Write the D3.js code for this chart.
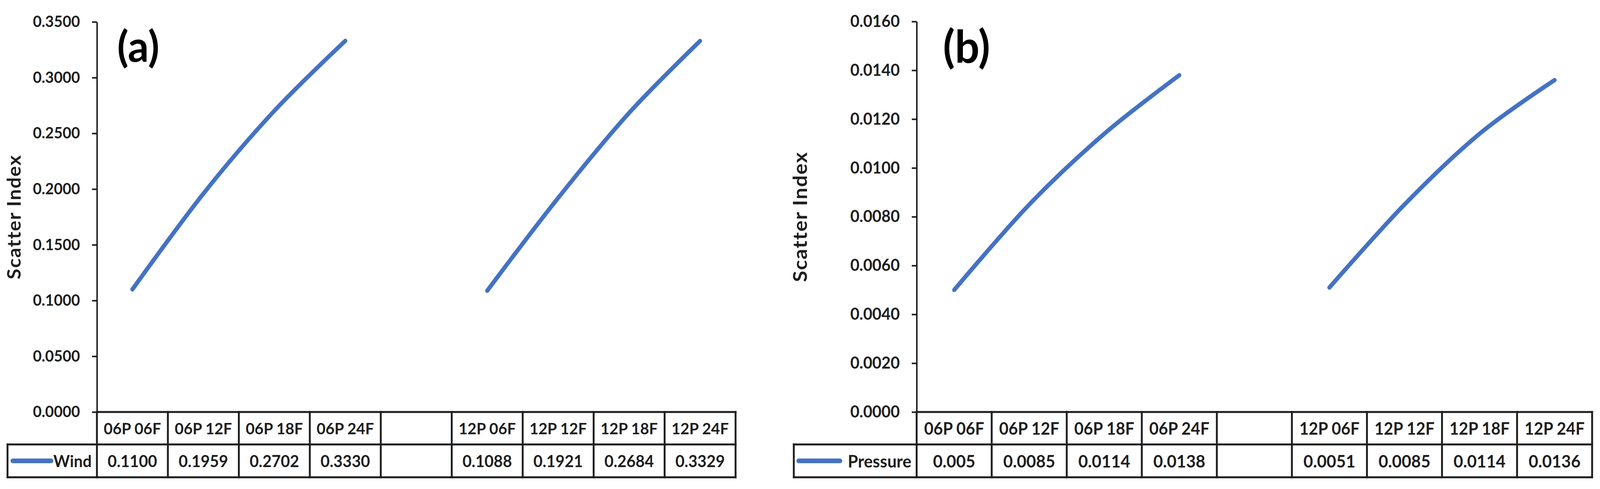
<!DOCTYPE html>
<html>
<head>
<meta charset="utf-8">
<script src="https://cdn.jsdelivr.net/npm/d3@7"></script>
<style>
  html, body { margin: 0; padding: 0; background: #ffffff; overflow: hidden; width: 100%; height: 100%; }
  svg { display: block; width: 100vw; height: 100vh; }
</style>
</head>
<body>
<svg id="chart" viewBox="0 0 4259 1251" preserveAspectRatio="none"></svg>
<script>
// ---------- DATA ----------
const categories = ["06P 06F", "06P 12F", "06P 18F", "06P 24F", "", "12P 06F", "12P 12F", "12P 18F", "12P 24F"];

const windValues = [0.1100, 0.1959, 0.2702, 0.3330, null, 0.1088, 0.1921, 0.2684, 0.3329];
const windLabels = ["0.1100", "0.1959", "0.2702", "0.3330", "", "0.1088", "0.1921", "0.2684", "0.3329"];
const windTicks = [0, 0.05, 0.10, 0.15, 0.20, 0.25, 0.30, 0.35];

const pressureValues = [0.005, 0.0085, 0.0114, 0.0138, null, 0.0051, 0.0085, 0.0114, 0.0136];
const pressureLabels = ["0.005", "0.0085", "0.0114", "0.0138", "", "0.0051", "0.0085", "0.0114", "0.0136"];
const pressureTicks = [0, 0.002, 0.004, 0.006, 0.008, 0.010, 0.012, 0.014, 0.016];

// ---------- STYLE / LAYOUT ----------
const FONT = "Lato, 'Open Sans', sans-serif";
const INK = "#1e1e1e";
const LINE_COLOR = "#4472C4";

const svg = d3.select("#chart");

function drawPanel(cfg) {
  const g = svg.append("g");
  const k = cfg.fontScale;

  const x = d3.scaleBand()
    .domain(d3.range(categories.length))
    .range([cfg.axisX, cfg.plotRight])
    .padding(0);

  const y = d3.scaleLinear()
    .domain([0, d3.max(cfg.ticks)])
    .range([cfg.plotBottom, cfg.plotTop]);

  // Y axis
  const yAxis = d3.axisLeft(y)
    .tickValues(cfg.ticks)
    .tickFormat(d3.format(".4f"))
    .tickSize(13)
    .tickSizeOuter(0)
    .tickPadding(32);

  const ax = g.append("g")
    .attr("transform", `translate(${cfg.axisX},0)`)
    .call(yAxis);
  ax.select(".domain").attr("stroke", INK).attr("stroke-width", 4);
  ax.selectAll(".tick line").attr("stroke", INK).attr("stroke-width", 4);
  ax.selectAll(".tick text")
    .attr("fill", INK)
    .style("font-family", FONT)
    .style("font-weight", "700")
    .style("font-size", (40 * k) + "px");

  // Y axis title
  g.append("text")
    .attr("transform", `translate(${cfg.titleX},${(cfg.plotTop + cfg.plotBottom) / 2}) rotate(-90)`)
    .attr("text-anchor", "middle")
    .attr("dominant-baseline", "central")
    .attr("fill", INK)
    .style("font-family", FONT)
    .style("font-weight", "700")
    .style("font-size", (50 * k) + "px")
    .style("letter-spacing", "2px")
    .text("Scatter Index");

  // Panel label
  g.append("text")
    .attr("x", cfg.labelX)
    .attr("y", cfg.labelY)
    .attr("fill", "#000")
    .style("font-family", FONT)
    .style("font-weight", "700")
    .style("font-size", (110 * k) + "px")
    .text(cfg.panelLabel);

  // Line (smoothed, broken at blank category)
  const line = d3.line()
    .defined(d => d.v !== null)
    .x(d => x(d.i) + x.bandwidth() / 2)
    .y(d => y(d.v))
    .curve(d3.curveCardinal.tension(0));

  g.append("path")
    .datum(cfg.values.map((v, i) => ({ i, v })))
    .attr("fill", "none")
    .attr("stroke", LINE_COLOR)
    .attr("stroke-width", 11)
    .attr("stroke-linecap", "round")
    .attr("stroke-linejoin", "round")
    .attr("d", line);

  // ---------- Data table ----------
  const tb = g.append("g");
  const rowTop = cfg.plotBottom, rowMid = cfg.headerBottom, rowBot = cfg.tableBottom;
  const bw = 5;

  tb.append("line").attr("x1", cfg.axisX).attr("x2", cfg.plotRight).attr("y1", rowTop).attr("y2", rowTop);
  tb.append("line").attr("x1", cfg.tableLeft).attr("x2", cfg.plotRight).attr("y1", rowMid).attr("y2", rowMid);
  tb.append("line").attr("x1", cfg.tableLeft).attr("x2", cfg.plotRight).attr("y1", rowBot).attr("y2", rowBot);
  tb.append("line").attr("x1", cfg.tableLeft).attr("x2", cfg.tableLeft).attr("y1", rowMid).attr("y2", rowBot);
  const edges = d3.range(categories.length + 1).map(i => i < categories.length ? x(i) : x(i - 1) + x.bandwidth());
  tb.selectAll(".vb").data(edges).join("line")
    .attr("x1", d => d).attr("x2", d => d)
    .attr("y1", rowTop).attr("y2", rowBot);
  tb.selectAll("line")
    .attr("stroke", INK)
    .attr("stroke-width", bw)
    .attr("stroke-linecap", "square");

  tb.selectAll(".hdr").data(categories).join("text")
    .attr("x", (d, i) => x(i) + x.bandwidth() / 2)
    .attr("y", (rowTop + rowMid) / 2)
    .attr("text-anchor", "middle")
    .attr("dominant-baseline", "central")
    .attr("fill", INK)
    .style("font-family", FONT)
    .style("font-weight", "700")
    .style("font-size", (41 * k) + "px")
    .text(d => d);

  tb.selectAll(".val").data(cfg.labels).join("text")
    .attr("x", (d, i) => x(i) + x.bandwidth() / 2)
    .attr("y", (rowMid + rowBot) / 2)
    .attr("text-anchor", "middle")
    .attr("dominant-baseline", "central")
    .attr("fill", INK)
    .style("font-family", FONT)
    .style("font-weight", "700")
    .style("font-size", (42 * k) + "px")
    .text(d => d);

  const midY = (rowMid + rowBot) / 2;
  tb.append("line")
    .attr("x1", cfg.keyX1).attr("x2", cfg.keyX2)
    .attr("y1", midY).attr("y2", midY)
    .attr("stroke", LINE_COLOR)
    .attr("stroke-width", 12)
    .attr("stroke-linecap", "round");
  tb.append("text")
    .attr("x", cfg.axisX - 14)
    .attr("y", midY)
    .attr("text-anchor", "end")
    .attr("dominant-baseline", "central")
    .attr("fill", INK)
    .style("font-family", FONT)
    .style("font-weight", "700")
    .style("font-size", (42 * k) + "px")
    .text(cfg.seriesName);
}

drawPanel({
  values: windValues, labels: windLabels, ticks: windTicks,
  seriesName: "Wind", panelLabel: "(a)", fontScale: 1,
  tableLeft: 20, axisX: 258, plotRight: 1958,
  plotTop: 56, plotBottom: 1054, headerBottom: 1137, tableBottom: 1221,
  titleX: 36, labelX: 312, labelY: 158,
  keyX1: 34, keyX2: 136
});

drawPanel({
  values: pressureValues, labels: pressureLabels, ticks: pressureTicks,
  seriesName: "Pressure", panelLabel: "(b)", fontScale: 1.05,
  tableLeft: 2113, axisX: 2440, plotRight: 4238,
  plotTop: 55, plotBottom: 1054, headerBottom: 1137, tableBottom: 1221,
  titleX: 2128, labelX: 2510, labelY: 160,
  keyX1: 2126, keyX2: 2236
});
</script>
</body>
</html>
